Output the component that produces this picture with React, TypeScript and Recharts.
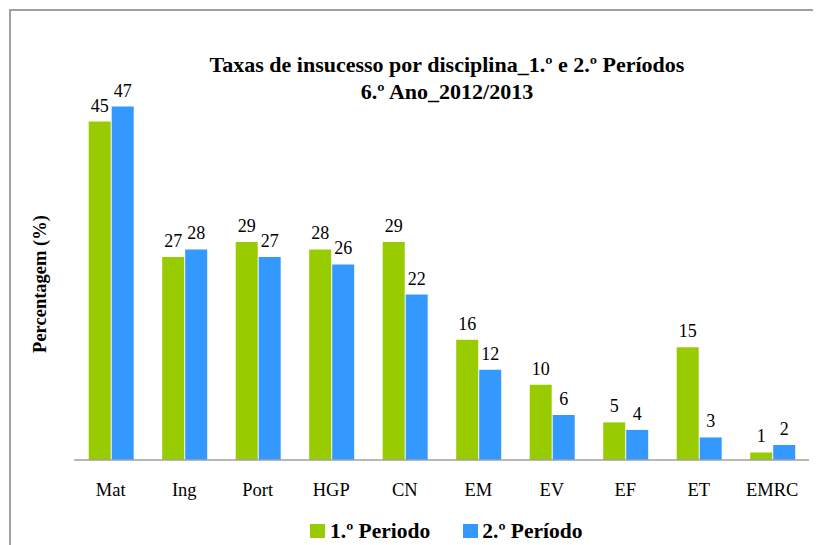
import React from "react";
import { BarChart, Bar, XAxis, YAxis, LabelList } from "recharts";

const categories = ["Mat", "Ing", "Port", "HGP", "CN", "EM", "EV", "EF", "ET", "EMRC"];
const periodo1 = [45, 27, 29, 28, 29, 16, 10, 5, 15, 1];
const periodo2 = [47, 28, 27, 26, 22, 12, 6, 4, 3, 2];
const seriesNames = ["1.º Periodo", "2.º Período"];
const titleLines = ["Taxas de insucesso por disciplina_1.º e 2.º Períodos", "6.º Ano_2012/2013"];
const yLabel = "Percentagem (%)";

const data = categories.map((c, i) => ({ name: c, p1: periodo1[i], p2: periodo2[i] }));

const GREEN = "#99CC00";
const BLUE = "#3399FF";
const FONT = '"Liberation Serif", Tinos, "Times New Roman", Times';

export default function App() {
  return (
    <div style={{ position: "relative", width: 813, height: 537, overflow: "hidden", fontFamily: FONT }}>
      <div
        style={{
          position: "absolute",
          left: 1,
          top: 1,
          width: 1000,
          height: 1000,
          border: "2px solid #a0a0a0",
          boxSizing: "border-box",
        }}
      />
      <div style={{ position: "absolute", left: 0, top: 0 }}>
        <BarChart
          width={813}
          height={537}
          data={data}
          margin={{ top: 76, right: 12, left: 66, bottom: 0 }}
          barCategoryGap="20%"
          barGap={1}
          style={{ fontFamily: FONT }}
        >
          <XAxis
            dataKey="name"
            height={85}
            tickLine={false}
            tickMargin={17}
            axisLine={{ stroke: "#a0a0a0", strokeWidth: 1.5 }}
            tick={{ fill: "#000", fontSize: 18.5, fontFamily: FONT }}
          />
          <YAxis hide domain={[0, 50]} />
          <Bar dataKey="p1" fill={GREEN} isAnimationActive={false}>
            <LabelList dataKey="p1" position="top" offset={10} fill="#000" fontSize={18} fontFamily={FONT} />
          </Bar>
          <Bar dataKey="p2" fill={BLUE} isAnimationActive={false}>
            <LabelList dataKey="p2" position="top" offset={10} fill="#000" fontSize={18} fontFamily={FONT} />
          </Bar>
        </BarChart>
      </div>
      <div
        style={{
          position: "absolute",
          left: 0,
          top: 42.5,
          width: 878,
          textAlign: "center",
          fontWeight: "bold",
          fontSize: 22,
          lineHeight: "27px",
          color: "#000",
          fontFamily: FONT,
        }}
      >
        <div>{titleLines[0]}</div>
        <div>{titleLines[1]}</div>
      </div>
      <div
        style={{
          position: "absolute",
          left: 32 - 100,
          top: 276 - 12,
          width: 200,
          height: 24,
          lineHeight: "24px",
          textAlign: "center",
          transform: "rotate(-90deg)",
          fontWeight: "bold",
          fontSize: 18.5,
          color: "#000",
          fontFamily: FONT,
        }}
      >
        {yLabel}
      </div>
      <div
        style={{
          position: "absolute",
          left: 302,
          top: 511,
          display: "flex",
          alignItems: "center",
          fontWeight: "bold",
          fontSize: 21.5,
          lineHeight: "24px",
          color: "#000",
          fontFamily: FONT,
        }}
      >
        <span style={{ display: "inline-block", width: 15, height: 14, background: GREEN, marginRight: 5 }} />
        <span>{seriesNames[0]}</span>
        <span style={{ display: "inline-block", width: 15, height: 14, background: BLUE, marginLeft: 33, marginRight: 4 }} />
        <span>{seriesNames[1]}</span>
      </div>
    </div>
  );
}
